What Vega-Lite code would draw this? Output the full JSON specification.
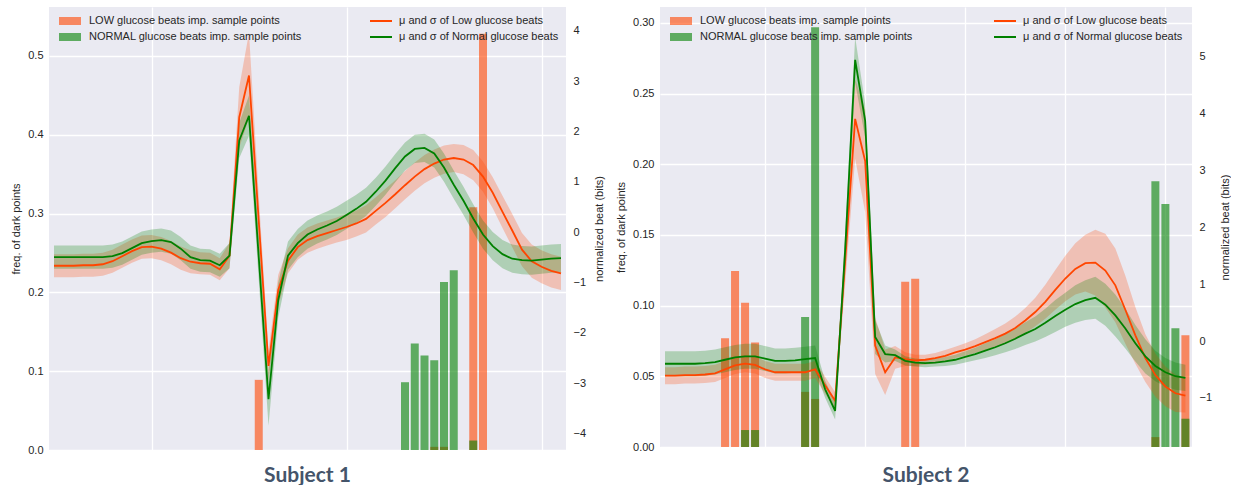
{
  "$schema": "https://vega.github.io/schema/vega-lite/v6.json",
  "background": "white",
  "padding": {"left": 10, "top": 7, "right": 0, "bottom": 2},
  "autosize": {"type": "pad"},
  "config": {
    "view": {"fill": "#EAEAF2", "stroke": null},
    "font": "Liberation Sans",
    "axis": {"labelFont": "Liberation Sans", "labelFontSize": 11, "labelColor": "#262626", "titleFont": "Liberation Sans", "titleFontSize": 11, "titleFontWeight": "normal", "titleColor": "#262626", "tickSize": 0, "domain": false, "labelPadding": 6, "titlePadding": 6},
    "legend": {"labelFont": "Liberation Sans", "labelFontSize": 11, "labelColor": "#262626", "labelLimit": 400, "padding": 0, "clipHeight": 14, "rowPadding": 2}
  },
  "datasets": {
    "bars1": [
      {"u": 21, "f": 0.089, "grp": "LOW"},
      {"u": 39, "f": 0.004, "grp": "LOW"},
      {"u": 40, "f": 0.004, "grp": "LOW"},
      {"u": 43, "f": 0.308, "grp": "LOW"},
      {"u": 44, "f": 0.528, "grp": "LOW"},
      {"u": 36, "f": 0.086, "grp": "NORMAL"},
      {"u": 37, "f": 0.135, "grp": "NORMAL"},
      {"u": 38, "f": 0.120, "grp": "NORMAL"},
      {"u": 39, "f": 0.114, "grp": "NORMAL"},
      {"u": 40, "f": 0.213, "grp": "NORMAL"},
      {"u": 41, "f": 0.228, "grp": "NORMAL"},
      {"u": 43, "f": 0.012, "grp": "NORMAL"}
    ],
    "bars2": [
      {"u": 6, "f": 0.077, "grp": "LOW"},
      {"u": 7, "f": 0.1245, "grp": "LOW"},
      {"u": 8, "f": 0.102, "grp": "LOW"},
      {"u": 9, "f": 0.074, "grp": "LOW"},
      {"u": 14, "f": 0.039, "grp": "LOW"},
      {"u": 15, "f": 0.034, "grp": "LOW"},
      {"u": 24, "f": 0.117, "grp": "LOW"},
      {"u": 25, "f": 0.119, "grp": "LOW"},
      {"u": 49, "f": 0.007, "grp": "LOW"},
      {"u": 52, "f": 0.079, "grp": "LOW"},
      {"u": 8, "f": 0.012, "grp": "NORMAL"},
      {"u": 9, "f": 0.012, "grp": "NORMAL"},
      {"u": 14, "f": 0.092, "grp": "NORMAL"},
      {"u": 15, "f": 0.297, "grp": "NORMAL"},
      {"u": 49, "f": 0.188, "grp": "NORMAL"},
      {"u": 50, "f": 0.172, "grp": "NORMAL"},
      {"u": 51, "f": 0.084, "grp": "NORMAL"},
      {"u": 52, "f": 0.020, "grp": "NORMAL"}
    ],
    "lines1": [
      {"u":0,"g":"Low","m":-0.67,"sd":0.23},{"u":1,"g":"Low","m":-0.67,"sd":0.23},{"u":2,"g":"Low","m":-0.67,"sd":0.23},{"u":3,"g":"Low","m":-0.66,"sd":0.23},{"u":4,"g":"Low","m":-0.66,"sd":0.23},
      {"u":5,"g":"Low","m":-0.64,"sd":0.23},{"u":6,"g":"Low","m":-0.58,"sd":0.23},{"u":7,"g":"Low","m":-0.48,"sd":0.23},{"u":8,"g":"Low","m":-0.38,"sd":0.23},{"u":9,"g":"Low","m":-0.30,"sd":0.23},
      {"u":10,"g":"Low","m":-0.29,"sd":0.23},{"u":11,"g":"Low","m":-0.33,"sd":0.23},{"u":12,"g":"Low","m":-0.41,"sd":0.23},{"u":13,"g":"Low","m":-0.52,"sd":0.23},{"u":14,"g":"Low","m":-0.59,"sd":0.23},
      {"u":15,"g":"Low","m":-0.62,"sd":0.22},{"u":16,"g":"Low","m":-0.63,"sd":0.22},{"u":17,"g":"Low","m":-0.74,"sd":0.22},{"u":18,"g":"Low","m":-0.47,"sd":0.25},{"u":19,"g":"Low","m":2.28,"sd":0.6},
      {"u":20,"g":"Low","m":3.11,"sd":0.85},{"u":21,"g":"Low","m":0.22,"sd":0.5},{"u":22,"g":"Low","m":-2.66,"sd":0.3},{"u":23,"g":"Low","m":-1.15,"sd":0.3},{"u":24,"g":"Low","m":-0.57,"sd":0.25},
      {"u":25,"g":"Low","m":-0.30,"sd":0.25},{"u":26,"g":"Low","m":-0.16,"sd":0.25},{"u":27,"g":"Low","m":-0.08,"sd":0.25},{"u":28,"g":"Low","m":-0.02,"sd":0.25},{"u":29,"g":"Low","m":0.04,"sd":0.25},
      {"u":30,"g":"Low","m":0.10,"sd":0.26},{"u":31,"g":"Low","m":0.17,"sd":0.26},{"u":32,"g":"Low","m":0.26,"sd":0.27},{"u":33,"g":"Low","m":0.42,"sd":0.27},{"u":34,"g":"Low","m":0.58,"sd":0.28},
      {"u":35,"g":"Low","m":0.75,"sd":0.28},{"u":36,"g":"Low","m":0.93,"sd":0.28},{"u":37,"g":"Low","m":1.10,"sd":0.28},{"u":38,"g":"Low","m":1.25,"sd":0.28},{"u":39,"g":"Low","m":1.36,"sd":0.28},
      {"u":40,"g":"Low","m":1.44,"sd":0.28},{"u":41,"g":"Low","m":1.47,"sd":0.28},{"u":42,"g":"Low","m":1.44,"sd":0.29},{"u":43,"g":"Low","m":1.33,"sd":0.3},{"u":44,"g":"Low","m":1.10,"sd":0.3},
      {"u":45,"g":"Low","m":0.78,"sd":0.31},{"u":46,"g":"Low","m":0.40,"sd":0.32},{"u":47,"g":"Low","m":0.03,"sd":0.33},{"u":48,"g":"Low","m":-0.35,"sd":0.33},{"u":49,"g":"Low","m":-0.58,"sd":0.33},
      {"u":50,"g":"Low","m":-0.69,"sd":0.33},{"u":51,"g":"Low","m":-0.77,"sd":0.33},{"u":52,"g":"Low","m":-0.82,"sd":0.33},
      {"u":0,"g":"Normal","m":-0.50,"sd":0.23},{"u":1,"g":"Normal","m":-0.50,"sd":0.23},{"u":2,"g":"Normal","m":-0.50,"sd":0.23},{"u":3,"g":"Normal","m":-0.50,"sd":0.23},{"u":4,"g":"Normal","m":-0.50,"sd":0.23},
      {"u":5,"g":"Normal","m":-0.50,"sd":0.23},{"u":6,"g":"Normal","m":-0.48,"sd":0.23},{"u":7,"g":"Normal","m":-0.42,"sd":0.23},{"u":8,"g":"Normal","m":-0.32,"sd":0.23},{"u":9,"g":"Normal","m":-0.22,"sd":0.23},
      {"u":10,"g":"Normal","m":-0.18,"sd":0.23},{"u":11,"g":"Normal","m":-0.16,"sd":0.23},{"u":12,"g":"Normal","m":-0.20,"sd":0.23},{"u":13,"g":"Normal","m":-0.33,"sd":0.23},{"u":14,"g":"Normal","m":-0.50,"sd":0.23},
      {"u":15,"g":"Normal","m":-0.56,"sd":0.23},{"u":16,"g":"Normal","m":-0.57,"sd":0.23},{"u":17,"g":"Normal","m":-0.66,"sd":0.23},{"u":18,"g":"Normal","m":-0.47,"sd":0.25},{"u":19,"g":"Normal","m":1.82,"sd":0.35},
      {"u":20,"g":"Normal","m":2.31,"sd":0.4},{"u":21,"g":"Normal","m":-0.50,"sd":0.45},{"u":22,"g":"Normal","m":-3.32,"sd":0.53},{"u":23,"g":"Normal","m":-1.35,"sd":0.35},{"u":24,"g":"Normal","m":-0.47,"sd":0.28},
      {"u":25,"g":"Normal","m":-0.22,"sd":0.28},{"u":26,"g":"Normal","m":-0.05,"sd":0.28},{"u":27,"g":"Normal","m":0.05,"sd":0.28},{"u":28,"g":"Normal","m":0.13,"sd":0.28},{"u":29,"g":"Normal","m":0.22,"sd":0.28},
      {"u":30,"g":"Normal","m":0.34,"sd":0.28},{"u":31,"g":"Normal","m":0.46,"sd":0.28},{"u":32,"g":"Normal","m":0.60,"sd":0.28},{"u":33,"g":"Normal","m":0.80,"sd":0.28},{"u":34,"g":"Normal","m":1.02,"sd":0.28},
      {"u":35,"g":"Normal","m":1.27,"sd":0.28},{"u":36,"g":"Normal","m":1.50,"sd":0.28},{"u":37,"g":"Normal","m":1.65,"sd":0.28},{"u":38,"g":"Normal","m":1.67,"sd":0.28},{"u":39,"g":"Normal","m":1.56,"sd":0.28},
      {"u":40,"g":"Normal","m":1.28,"sd":0.28},{"u":41,"g":"Normal","m":0.94,"sd":0.28},{"u":42,"g":"Normal","m":0.62,"sd":0.28},{"u":43,"g":"Normal","m":0.27,"sd":0.28},{"u":44,"g":"Normal","m":-0.05,"sd":0.28},
      {"u":45,"g":"Normal","m":-0.28,"sd":0.28},{"u":46,"g":"Normal","m":-0.44,"sd":0.28},{"u":47,"g":"Normal","m":-0.53,"sd":0.28},{"u":48,"g":"Normal","m":-0.56,"sd":0.28},{"u":49,"g":"Normal","m":-0.57,"sd":0.28},
      {"u":50,"g":"Normal","m":-0.55,"sd":0.28},{"u":51,"g":"Normal","m":-0.53,"sd":0.28},{"u":52,"g":"Normal","m":-0.52,"sd":0.28}
    ],
    "lines2": [
      {"u":0,"g":"Low","m":-0.61,"sd":0.15},{"u":1,"g":"Low","m":-0.61,"sd":0.15},{"u":2,"g":"Low","m":-0.60,"sd":0.15},{"u":3,"g":"Low","m":-0.60,"sd":0.15},{"u":4,"g":"Low","m":-0.59,"sd":0.15},
      {"u":5,"g":"Low","m":-0.57,"sd":0.15},{"u":6,"g":"Low","m":-0.50,"sd":0.15},{"u":7,"g":"Low","m":-0.43,"sd":0.15},{"u":8,"g":"Low","m":-0.40,"sd":0.15},{"u":9,"g":"Low","m":-0.42,"sd":0.15},
      {"u":10,"g":"Low","m":-0.50,"sd":0.15},{"u":11,"g":"Low","m":-0.55,"sd":0.15},{"u":12,"g":"Low","m":-0.55,"sd":0.15},{"u":13,"g":"Low","m":-0.55,"sd":0.15},{"u":14,"g":"Low","m":-0.55,"sd":0.15},
      {"u":15,"g":"Low","m":-0.50,"sd":0.15},{"u":16,"g":"Low","m":-0.78,"sd":0.15},{"u":17,"g":"Low","m":-1.05,"sd":0.15},{"u":18,"g":"Low","m":1.40,"sd":0.4},{"u":19,"g":"Low","m":3.91,"sd":0.7},
      {"u":20,"g":"Low","m":3.17,"sd":0.9},{"u":21,"g":"Low","m":-0.08,"sd":0.5},{"u":22,"g":"Low","m":-0.55,"sd":0.4},{"u":23,"g":"Low","m":-0.29,"sd":0.2},{"u":24,"g":"Low","m":-0.32,"sd":0.12},
      {"u":25,"g":"Low","m":-0.34,"sd":0.1},{"u":26,"g":"Low","m":-0.33,"sd":0.09},{"u":27,"g":"Low","m":-0.30,"sd":0.09},{"u":28,"g":"Low","m":-0.26,"sd":0.1},{"u":29,"g":"Low","m":-0.20,"sd":0.1},
      {"u":30,"g":"Low","m":-0.15,"sd":0.11},{"u":31,"g":"Low","m":-0.09,"sd":0.12},{"u":32,"g":"Low","m":-0.02,"sd":0.14},{"u":33,"g":"Low","m":0.05,"sd":0.16},{"u":34,"g":"Low","m":0.13,"sd":0.18},
      {"u":35,"g":"Low","m":0.23,"sd":0.2},{"u":36,"g":"Low","m":0.36,"sd":0.22},{"u":37,"g":"Low","m":0.51,"sd":0.25},{"u":38,"g":"Low","m":0.69,"sd":0.3},{"u":39,"g":"Low","m":0.90,"sd":0.35},
      {"u":40,"g":"Low","m":1.10,"sd":0.4},{"u":41,"g":"Low","m":1.27,"sd":0.45},{"u":42,"g":"Low","m":1.37,"sd":0.5},{"u":43,"g":"Low","m":1.38,"sd":0.58},{"u":44,"g":"Low","m":1.24,"sd":0.65},
      {"u":45,"g":"Low","m":0.98,"sd":0.65},{"u":46,"g":"Low","m":0.55,"sd":0.6},{"u":47,"g":"Low","m":0.10,"sd":0.5},{"u":48,"g":"Low","m":-0.30,"sd":0.42},{"u":49,"g":"Low","m":-0.60,"sd":0.38},
      {"u":50,"g":"Low","m":-0.80,"sd":0.35},{"u":51,"g":"Low","m":-0.92,"sd":0.33},{"u":52,"g":"Low","m":-0.96,"sd":0.3},
      {"u":0,"g":"Normal","m":-0.40,"sd":0.22},{"u":1,"g":"Normal","m":-0.40,"sd":0.22},{"u":2,"g":"Normal","m":-0.40,"sd":0.22},{"u":3,"g":"Normal","m":-0.40,"sd":0.22},{"u":4,"g":"Normal","m":-0.39,"sd":0.22},
      {"u":5,"g":"Normal","m":-0.37,"sd":0.22},{"u":6,"g":"Normal","m":-0.33,"sd":0.22},{"u":7,"g":"Normal","m":-0.29,"sd":0.22},{"u":8,"g":"Normal","m":-0.27,"sd":0.22},{"u":9,"g":"Normal","m":-0.27,"sd":0.22},
      {"u":10,"g":"Normal","m":-0.31,"sd":0.22},{"u":11,"g":"Normal","m":-0.35,"sd":0.22},{"u":12,"g":"Normal","m":-0.35,"sd":0.22},{"u":13,"g":"Normal","m":-0.34,"sd":0.22},{"u":14,"g":"Normal","m":-0.32,"sd":0.22},
      {"u":15,"g":"Normal","m":-0.30,"sd":0.22},{"u":16,"g":"Normal","m":-0.85,"sd":0.15},{"u":17,"g":"Normal","m":-1.23,"sd":0.15},{"u":18,"g":"Normal","m":1.60,"sd":0.3},{"u":19,"g":"Normal","m":4.95,"sd":0.4},
      {"u":20,"g":"Normal","m":3.88,"sd":0.3},{"u":21,"g":"Normal","m":0.07,"sd":0.3},{"u":22,"g":"Normal","m":-0.23,"sd":0.15},{"u":23,"g":"Normal","m":-0.25,"sd":0.1},{"u":24,"g":"Normal","m":-0.35,"sd":0.08},
      {"u":25,"g":"Normal","m":-0.38,"sd":0.07},{"u":26,"g":"Normal","m":-0.39,"sd":0.07},{"u":27,"g":"Normal","m":-0.38,"sd":0.07},{"u":28,"g":"Normal","m":-0.36,"sd":0.08},{"u":29,"g":"Normal","m":-0.33,"sd":0.09},
      {"u":30,"g":"Normal","m":-0.28,"sd":0.1},{"u":31,"g":"Normal","m":-0.23,"sd":0.11},{"u":32,"g":"Normal","m":-0.17,"sd":0.13},{"u":33,"g":"Normal","m":-0.11,"sd":0.14},{"u":34,"g":"Normal","m":-0.04,"sd":0.16},
      {"u":35,"g":"Normal","m":0.04,"sd":0.18},{"u":36,"g":"Normal","m":0.13,"sd":0.2},{"u":37,"g":"Normal","m":0.21,"sd":0.22},{"u":38,"g":"Normal","m":0.32,"sd":0.25},{"u":39,"g":"Normal","m":0.44,"sd":0.28},
      {"u":40,"g":"Normal","m":0.55,"sd":0.3},{"u":41,"g":"Normal","m":0.65,"sd":0.33},{"u":42,"g":"Normal","m":0.72,"sd":0.35},{"u":43,"g":"Normal","m":0.76,"sd":0.37},{"u":44,"g":"Normal","m":0.64,"sd":0.37},
      {"u":45,"g":"Normal","m":0.45,"sd":0.37},{"u":46,"g":"Normal","m":0.22,"sd":0.35},{"u":47,"g":"Normal","m":-0.04,"sd":0.32},{"u":48,"g":"Normal","m":-0.27,"sd":0.3},{"u":49,"g":"Normal","m":-0.44,"sd":0.27},
      {"u":50,"g":"Normal","m":-0.55,"sd":0.25},{"u":51,"g":"Normal","m":-0.62,"sd":0.24},{"u":52,"g":"Normal","m":-0.65,"sd":0.23}
    ]
  },
  "spacing": 10,
  "resolve": {"scale": {"x": "independent", "y": "independent", "fill": "independent", "color": "independent"}, "legend": {"fill": "independent", "color": "independent"}},
  "hconcat": [
    {
      "width": 517,
      "height": 443,
      "title": {"text": "Subject 1", "orient": "bottom", "frame": "group", "anchor": "middle", "font": "Lato", "fontSize": 21, "fontWeight": "bold", "color": "#44546A", "offset": 10},
      "resolve": {"scale": {"y": "independent"}},
      "layer": [
        {
          "data": {"name": "bars1"},
          "mark": {"type": "bar", "size": 8, "opacity": 0.6, "clip": true},
          "encoding": {
            "x": {"field": "u", "type": "quantitative", "scale": {"domain": [0, 52], "nice": false, "zero": false}, "axis": {"values": [10, 30, 50], "labels": false, "ticks": false, "domain": false, "title": null, "grid": true, "gridColor": "white", "gridWidth": 1.3}},
            "y": {"field": "f", "type": "quantitative", "stack": null, "scale": {"domain": [0, 0.562], "nice": false}, "axis": {"orient": "left", "values": [0, 0.1, 0.2, 0.3, 0.4, 0.5], "format": ".1f", "title": "freq. of dark points", "grid": true, "gridColor": "white", "gridWidth": 1.3}},
            "fill": {"field": "grp", "type": "nominal", "scale": {"domain": ["LOW", "NORMAL"], "range": ["orangered", "green"]},
              "legend": {"title": null, "orient": "none", "legendX": 10, "legendY": 7, "symbolType": "M-1,-0.36H1V0.36H-1Z", "symbolSize": 484, "symbolStrokeWidth": 0, "symbolOpacity": 0.6, "labelOffset": 8,
                "labelExpr": "datum.label == 'LOW' ? 'LOW glucose beats imp. sample points' : 'NORMAL glucose beats imp. sample points'"}}
          }
        },
        {
          "data": {"name": "lines1"},
          "transform": [{"filter": "datum.g == 'Low'"}],
          "mark": {"type": "errorband", "band": {"opacity": 0.25, "color": "orangered"}},
          "encoding": {
            "x": {"field": "u", "type": "quantitative", "scale": {"domain": [0, 52], "nice": false, "zero": false}},
            "y": {"field": "m", "type": "quantitative", "scale": {"domain": [-4.33, 4.47], "nice": false, "zero": false}, "axis": null},
            "yError": {"field": "sd"}
          }
        },
        {
          "data": {"name": "lines1"},
          "transform": [{"filter": "datum.g == 'Normal'"}],
          "mark": {"type": "errorband", "band": {"opacity": 0.25, "color": "green"}},
          "encoding": {
            "x": {"field": "u", "type": "quantitative", "scale": {"domain": [0, 52], "nice": false, "zero": false}},
            "y": {"field": "m", "type": "quantitative", "scale": {"domain": [-4.33, 4.47], "nice": false, "zero": false}, "axis": null},
            "yError": {"field": "sd"}
          }
        },
        {
          "data": {"name": "lines1"},
          "mark": {"type": "line", "strokeWidth": 1.8, "clip": true},
          "encoding": {
            "x": {"field": "u", "type": "quantitative", "scale": {"domain": [0, 52], "nice": false, "zero": false}},
            "y": {"field": "m", "type": "quantitative", "scale": {"domain": [-4.33, 4.47], "nice": false, "zero": false}, "axis": {"orient": "right", "values": [-4, -3, -2, -1, 0, 1, 2, 3, 4], "format": "d", "title": "normalized beat (bits)", "titleAngle": 270, "titleBaseline": "top", "grid": false, "labelPadding": 7, "titlePadding": 8}},
            "color": {"field": "g", "type": "nominal", "scale": {"domain": ["Low", "Normal"], "range": ["orangered", "green"]},
              "legend": {"title": null, "orient": "none", "legendX": 320, "legendY": 7, "symbolType": "stroke", "symbolSize": 484, "symbolStrokeWidth": 2, "labelOffset": 6,
                "labelExpr": "datum.label == 'Low' ? 'μ and σ of Low glucose beats' : 'μ and σ of Normal glucose beats'"}}
          }
        }
      ]
    },
    {
      "width": 532,
      "height": 440,
      "title": {"text": "Subject 2", "orient": "bottom", "frame": "group", "anchor": "middle", "font": "Lato", "fontSize": 21, "fontWeight": "bold", "color": "#44546A", "offset": 13},
      "resolve": {"scale": {"y": "independent"}},
      "layer": [
        {
          "data": {"name": "bars2"},
          "mark": {"type": "bar", "size": 8, "opacity": 0.6, "clip": true},
          "encoding": {
            "x": {"field": "u", "type": "quantitative", "scale": {"domain": [0, 52.16], "nice": false, "zero": false}, "axis": {"values": [10, 20, 30, 40, 50], "labels": false, "ticks": false, "domain": false, "title": null, "grid": true, "gridColor": "white", "gridWidth": 1.3}},
            "y": {"field": "f", "type": "quantitative", "stack": null, "scale": {"domain": [0, 0.3113], "nice": false}, "axis": {"orient": "left", "values": [0, 0.05, 0.1, 0.15, 0.2, 0.25, 0.3], "format": ".2f", "title": "freq. of dark points", "grid": true, "gridColor": "white", "gridWidth": 1.3}},
            "fill": {"field": "grp", "type": "nominal", "scale": {"domain": ["LOW", "NORMAL"], "range": ["orangered", "green"]},
              "legend": {"title": null, "orient": "none", "legendX": 10, "legendY": 7, "symbolType": "M-1,-0.36H1V0.36H-1Z", "symbolSize": 484, "symbolStrokeWidth": 0, "symbolOpacity": 0.6, "labelOffset": 8,
                "labelExpr": "datum.label == 'LOW' ? 'LOW glucose beats imp. sample points' : 'NORMAL glucose beats imp. sample points'"}}
          }
        },
        {
          "data": {"name": "lines2"},
          "transform": [{"filter": "datum.g == 'Low'"}],
          "mark": {"type": "errorband", "band": {"opacity": 0.25, "color": "orangered"}},
          "encoding": {
            "x": {"field": "u", "type": "quantitative", "scale": {"domain": [0, 52.16], "nice": false, "zero": false}},
            "y": {"field": "m", "type": "quantitative", "scale": {"domain": [-1.866, 5.88], "nice": false, "zero": false}, "axis": null},
            "yError": {"field": "sd"}
          }
        },
        {
          "data": {"name": "lines2"},
          "transform": [{"filter": "datum.g == 'Normal'"}],
          "mark": {"type": "errorband", "band": {"opacity": 0.25, "color": "green"}},
          "encoding": {
            "x": {"field": "u", "type": "quantitative", "scale": {"domain": [0, 52.16], "nice": false, "zero": false}},
            "y": {"field": "m", "type": "quantitative", "scale": {"domain": [-1.866, 5.88], "nice": false, "zero": false}, "axis": null},
            "yError": {"field": "sd"}
          }
        },
        {
          "data": {"name": "lines2"},
          "mark": {"type": "line", "strokeWidth": 1.8, "clip": true},
          "encoding": {
            "x": {"field": "u", "type": "quantitative", "scale": {"domain": [0, 52.16], "nice": false, "zero": false}},
            "y": {"field": "m", "type": "quantitative", "scale": {"domain": [-1.866, 5.88], "nice": false, "zero": false}, "axis": {"orient": "right", "values": [-1, 0, 1, 2, 3, 4, 5], "format": "d", "title": "normalized beat (bits)", "titleAngle": 270, "titleBaseline": "top", "grid": false, "labelPadding": 7, "titlePadding": 8}},
            "color": {"field": "g", "type": "nominal", "scale": {"domain": ["Low", "Normal"], "range": ["orangered", "green"]},
              "legend": {"title": null, "orient": "none", "legendX": 333, "legendY": 7, "symbolType": "stroke", "symbolSize": 484, "symbolStrokeWidth": 2, "labelOffset": 6,
                "labelExpr": "datum.label == 'Low' ? 'μ and σ of Low glucose beats' : 'μ and σ of Normal glucose beats'"}}
          }
        }
      ]
    }
  ]
}
